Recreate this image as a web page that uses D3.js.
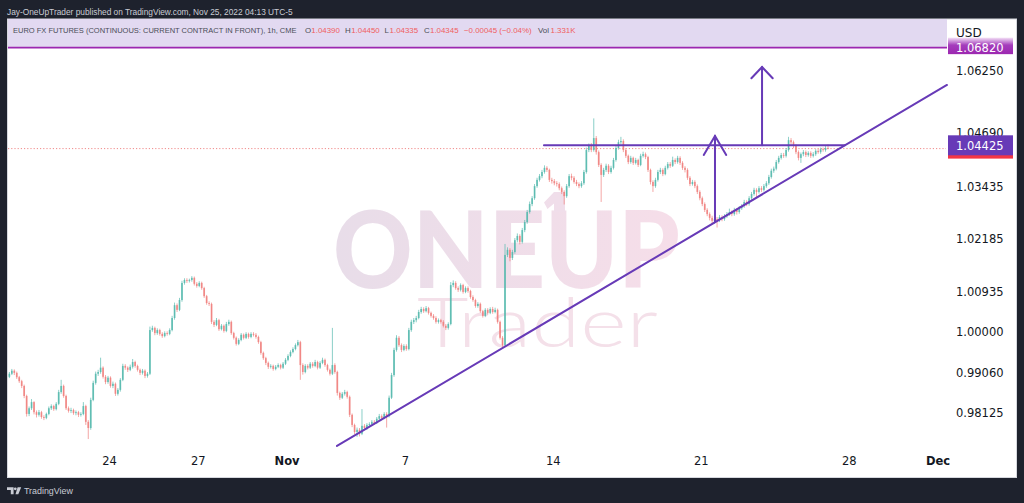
<!DOCTYPE html>
<html><head><meta charset="utf-8">
<script src="https://cdn.jsdelivr.net/npm/d3@7"></script>
<style>html,body{margin:0;padding:0;background:#1e222d;overflow:hidden}svg{display:block}</style>
</head><body>
<svg id="c" width="1024" height="503"></svg>
<script>
// ---------- DATA (~2h bars) ----------
const firstOpen = 0.9890;
const closes = [
0.9896,0.9903,0.9910,0.9905,0.9895,0.9886,0.9875,0.9852,0.9811,0.9824,
0.9838,0.9815,0.9809,0.9815,0.9804,0.9802,0.9811,0.9824,0.9829,0.9822,
0.9834,0.9861,0.9875,0.9852,0.9824,0.9818,0.9820,0.9813,0.9815,0.9809,
0.9811,0.9829,0.9793,0.9779,0.9843,0.9882,0.9903,0.9907,0.9917,0.9896,
0.9884,0.9894,0.9875,0.9880,0.9857,0.9866,0.9889,0.9921,0.9917,0.9912,
0.9919,0.9930,0.9921,0.9912,0.9905,0.9910,0.9898,0.9903,1.0004,1.0009,
0.9997,1.0004,0.9995,0.9990,0.9997,0.9995,1.0004,1.0032,1.0062,1.0051,
1.0074,1.0114,1.0121,1.0119,1.0121,1.0126,1.0112,1.0107,1.0114,1.0102,
1.0083,1.0067,1.0065,1.0023,1.0016,1.0027,1.0006,1.0014,1.0002,1.0018,
1.0023,0.9997,0.9986,0.9972,0.9981,0.9993,0.9986,0.9995,0.9988,0.9995,
0.9993,0.9988,0.9976,0.9951,0.9939,0.9928,0.9919,0.9921,0.9914,0.9919,
0.9923,0.9917,0.9926,0.9935,0.9944,0.9953,0.9960,0.9969,0.9976,0.9923,
0.9907,0.9921,0.9917,0.9926,0.9921,0.9930,0.9917,0.9928,0.9935,0.9923,
0.9912,0.9903,0.9923,0.9907,0.9859,0.9848,0.9857,0.9861,0.9850,0.9809,
0.9786,0.9770,0.9775,0.9766,0.9784,0.9779,0.9786,0.9788,0.9793,0.9791,
0.9800,0.9806,0.9802,0.9811,0.9806,0.9848,0.9900,0.9958,0.9986,0.9969,
0.9958,0.9967,0.9960,1.0004,1.0023,1.0027,1.0032,1.0046,1.0053,1.0048,
1.0055,1.0044,1.0037,1.0032,1.0023,1.0027,1.0023,1.0014,1.0009,1.0018,
1.0109,1.0114,1.0102,1.0098,1.0109,1.0093,1.0102,1.0095,1.0081,1.0074,
1.0060,1.0065,1.0048,1.0037,1.0051,1.0044,1.0053,1.0046,1.0051,1.0023,
0.9986,0.9969,1.0180,1.0192,1.0173,1.0187,1.0215,1.0225,1.0211,1.0239,
1.0258,1.0282,1.0301,1.0315,1.0344,1.0359,1.0368,1.0378,1.0388,1.0383,
1.0359,1.0356,1.0351,1.0349,1.0339,1.0330,1.0320,1.0344,1.0368,1.0364,
1.0354,1.0349,1.0344,1.0351,1.0378,1.0431,1.0441,1.0431,1.0460,1.0426,
1.0395,1.0371,1.0383,1.0393,1.0378,1.0388,1.0407,1.0436,1.0450,1.0453,
1.0431,1.0417,1.0402,1.0412,1.0400,1.0407,1.0395,1.0417,1.0421,1.0414,
1.0383,1.0354,1.0344,1.0359,1.0378,1.0383,1.0373,1.0388,1.0397,1.0393,
1.0407,1.0402,1.0412,1.0400,1.0388,1.0383,1.0364,1.0349,1.0354,1.0344,
1.0330,1.0315,1.0301,1.0287,1.0277,1.0268,1.0261,1.0265,1.0263,1.0270,
1.0265,1.0272,1.0277,1.0282,1.0277,1.0287,1.0282,1.0291,1.0296,1.0306,
1.0301,1.0315,1.0325,1.0335,1.0330,1.0339,1.0335,1.0344,1.0351,1.0366,
1.0381,1.0386,1.0402,1.0412,1.0419,1.0417,1.0431,1.0455,1.0450,1.0441,
1.0426,1.0412,1.0421,1.0426,1.0419,1.0424,1.0417,1.0421,1.0429,1.0426,
1.0433,1.0431,1.0436,1.0434];
const highs = [
0.9900,0.9907,0.9914,0.9913,0.9908,0.9898,0.9889,0.9878,0.9855,0.9828,
0.9845,0.9840,0.9819,0.9820,0.9818,0.9808,0.9814,0.9828,0.9833,0.9832,
0.9838,0.9866,0.9889,0.9878,0.9855,0.9828,0.9825,0.9823,0.9819,0.9818,
0.9815,0.9838,0.9832,0.9797,0.9848,0.9887,0.9908,0.9912,0.9940,0.9920,
0.9900,0.9898,0.9897,0.9885,0.9883,0.9870,0.9893,0.9926,0.9925,0.9920,
0.9924,0.9937,0.9933,0.9924,0.9915,0.9914,0.9913,0.9907,1.0012,1.0014,
1.0012,1.0008,1.0007,0.9999,1.0001,1.0001,1.0008,1.0037,1.0068,1.0066,
1.0079,1.0119,1.0125,1.0125,1.0124,1.0130,1.0129,1.0116,1.0118,1.0117,
1.0105,1.0086,1.0071,1.0068,1.0027,1.0032,1.0030,1.0018,1.0017,1.0023,
1.0028,1.0026,1.0000,0.9989,0.9985,0.9997,0.9996,0.9999,0.9998,0.9999,
0.9999,0.9997,0.9991,0.9979,0.9954,0.9942,0.9931,0.9925,0.9924,0.9923,
0.9927,0.9926,0.9930,0.9939,0.9948,0.9957,0.9964,0.9973,0.9981,0.9979,
0.9927,0.9925,0.9925,0.9930,0.9930,0.9935,0.9933,0.9932,0.9940,0.9938,
0.9926,0.9915,1.0009,0.9927,0.9910,0.9862,0.9861,0.9866,0.9864,0.9853,
0.9812,0.9789,0.9780,0.9779,0.9822,0.9788,0.9790,0.9792,0.9797,0.9797,
0.9804,0.9811,0.9810,0.9815,0.9815,0.9853,0.9905,0.9963,0.9992,0.9990,
0.9973,0.9971,0.9971,1.0009,1.0028,1.0032,1.0037,1.0051,1.0058,1.0057,
1.0060,1.0058,1.0047,1.0041,1.0036,1.0031,1.0030,1.0027,1.0018,1.0022,
1.0116,1.0120,1.0118,1.0106,1.0113,1.0112,1.0106,1.0106,1.0098,1.0085,
1.0077,1.0069,1.0068,1.0051,1.0055,1.0055,1.0057,1.0058,1.0056,1.0054,
1.0026,0.9990,1.0206,1.0198,1.0196,1.0192,1.0220,1.0231,1.0229,1.0244,
1.0263,1.0287,1.0307,1.0320,1.0349,1.0364,1.0373,1.0383,1.0394,1.0392,
1.0386,1.0364,1.0361,1.0356,1.0353,1.0343,1.0334,1.0349,1.0373,1.0374,
1.0368,1.0359,1.0353,1.0356,1.0383,1.0437,1.0447,1.0448,1.0508,1.0465,
1.0430,1.0399,1.0388,1.0398,1.0397,1.0393,1.0412,1.0441,1.0456,1.0463,
1.0457,1.0435,1.0420,1.0417,1.0415,1.0412,1.0410,1.0422,1.0427,1.0425,
1.0417,1.0386,1.0358,1.0364,1.0383,1.0388,1.0387,1.0393,1.0402,1.0402,
1.0415,1.0411,1.0417,1.0416,1.0404,1.0392,1.0387,1.0368,1.0359,1.0358,
1.0348,1.0334,1.0319,1.0305,1.0291,1.0281,1.0273,1.0270,1.0270,1.0275,
1.0274,1.0277,1.0282,1.0290,1.0286,1.0292,1.0291,1.0296,1.0301,1.0311,
1.0310,1.0320,1.0330,1.0340,1.0339,1.0344,1.0344,1.0349,1.0356,1.0371,
1.0386,1.0391,1.0407,1.0417,1.0424,1.0424,1.0436,1.0463,1.0460,1.0454,
1.0445,1.0430,1.0425,1.0431,1.0430,1.0428,1.0428,1.0426,1.0433,1.0434,
1.0437,1.0437,1.0441,1.0445];
const lows = [
0.9886,0.9893,0.9900,0.9900,0.9891,0.9882,0.9870,0.9847,0.9805,0.9806,
0.9820,0.9810,0.9803,0.9805,0.9800,0.9797,0.9799,0.9808,0.9820,0.9818,
0.9819,0.9831,0.9857,0.9848,0.9820,0.9814,0.9813,0.9809,0.9808,0.9804,
0.9805,0.9808,0.9786,0.9754,0.9775,0.9840,0.9878,0.9898,0.9903,0.9892,
0.9879,0.9880,0.9871,0.9870,0.9852,0.9853,0.9862,0.9886,0.9912,0.9907,
0.9909,0.9915,0.9917,0.9908,0.9900,0.9901,0.9893,0.9894,0.9900,1.0000,
0.9992,0.9993,0.9991,0.9986,0.9987,0.9991,0.9992,1.0001,1.0028,1.0046,
1.0048,1.0070,1.0110,1.0114,1.0115,1.0117,1.0108,1.0103,1.0104,1.0098,
1.0079,1.0063,1.0060,1.0018,1.0011,1.0013,1.0002,1.0003,0.9998,0.9999,
1.0014,0.9993,0.9982,0.9968,0.9969,0.9978,0.9982,0.9983,0.9984,0.9985,
0.9989,0.9984,0.9972,0.9947,0.9935,0.9923,0.9914,0.9915,0.9910,0.9911,
0.9916,0.9913,0.9914,0.9923,0.9932,0.9941,0.9950,0.9957,0.9966,0.9889,
0.9901,0.9904,0.9913,0.9914,0.9917,0.9918,0.9913,0.9914,0.9925,0.9919,
0.9908,0.9899,0.9900,0.9903,0.9853,0.9843,0.9845,0.9853,0.9846,0.9804,
0.9781,0.9765,0.9759,0.9760,0.9763,0.9774,0.9775,0.9782,0.9784,0.9787,
0.9788,0.9797,0.9798,0.9799,0.9780,0.9803,0.9845,0.9896,0.9954,0.9965,
0.9953,0.9955,0.9956,0.9957,1.0000,1.0018,1.0022,1.0029,1.0042,1.0044,
1.0045,1.0040,1.0033,1.0028,1.0019,1.0019,1.0019,1.0010,1.0004,1.0005,
1.0015,1.0104,1.0098,1.0093,1.0094,1.0089,1.0090,1.0091,1.0077,1.0070,
1.0056,1.0056,1.0044,1.0033,1.0034,1.0040,1.0041,1.0042,1.0043,1.0019,
0.9982,0.9962,0.9965,1.0175,1.0165,1.0168,1.0183,1.0210,1.0205,1.0207,
1.0234,1.0254,1.0278,1.0296,1.0311,1.0340,1.0355,1.0363,1.0374,1.0378,
1.0354,1.0350,1.0346,1.0343,1.0334,1.0325,1.0300,1.0316,1.0340,1.0358,
1.0350,1.0344,1.0339,1.0340,1.0347,1.0374,1.0426,1.0426,1.0427,1.0420,
1.0390,1.0306,1.0366,1.0378,1.0373,1.0374,1.0384,1.0403,1.0432,1.0445,
1.0426,1.0412,1.0397,1.0398,1.0395,1.0396,1.0390,1.0392,1.0413,1.0409,
1.0378,1.0348,1.0330,1.0340,1.0355,1.0373,1.0368,1.0370,1.0384,1.0388,
1.0390,1.0397,1.0398,1.0395,1.0383,1.0377,1.0359,1.0344,1.0345,1.0339,
1.0325,1.0310,1.0296,1.0282,1.0272,1.0262,1.0255,1.0254,1.0245,1.0258,
1.0260,1.0261,1.0268,1.0273,1.0272,1.0273,1.0276,1.0278,1.0287,1.0292,
1.0296,1.0297,1.0311,1.0321,1.0316,1.0326,1.0330,1.0331,1.0340,1.0347,
1.0362,1.0376,1.0382,1.0398,1.0408,1.0412,1.0413,1.0427,1.0444,1.0436,
1.0421,1.0406,1.0400,1.0416,1.0414,1.0415,1.0412,1.0413,1.0417,1.0422,
1.0422,1.0427,1.0427,1.0433];
const firstBarDay = -3.45;      // trading-day index of first bar (Oct 24 = 0)
const barsPerDay = 12;
const priceTicks = [1.06250,1.04690,1.03435,1.02185,1.00935,1.00000,0.99060,0.98125];
const dayTicks = [0,3,6,10,15,20,25,28];
const dayLabels = ["24","27","Nov","7","14","21","28","Dec"];
const boldLabels = ["Nov","Dec"];
const lastPrice = 1.04345, levelPrice = 1.04425, bandPrice = 1.06820;
const trendLine = [[7.705,0.97383],[28.32,1.05898]];
const resistance = [[14.70,1.04425],[24.87,1.04425]];
const arrows = [
  {d:20.48, from:1.02582, to:1.04651, wd:0.38, wp:1.04190},
  {d:22.07, from:1.04425, to:1.06341, wd:0.36, wp:1.06063}
];
const symbolText = "EURO FX FUTURES (CONTINUOUS: CURRENT CONTRACT IN FRONT), 1h, CME";
const legendKeys = ["O","H","L","C","","Vol"];
const legendVals = ["1.04390","1.04450","1.04335","1.04345","\u22120.00045 (\u22120.04%)","1.331K"];

// ---------- LAYOUT ----------
const plot = {l:8, r:946, t:19, b:450};
const svg = d3.select("#c");
const x = d3.scaleLinear().domain([-3.413, 28.287]).range([plot.l, plot.r]);
const y = d3.scaleLog().domain([0.97292, 1.07533]).range([plot.b, plot.t]);

const defs = svg.append("defs");
defs.append("clipPath").attr("id","clip").append("rect")
  .attr("x",plot.l).attr("y",plot.t).attr("width",plot.r-plot.l).attr("height",plot.b-plot.t);
const g1 = defs.append("linearGradient").attr("id","wm").attr("gradientUnits","userSpaceOnUse")
  .attr("x1",333).attr("x2",680).attr("y1",0).attr("y2",0);
g1.append("stop").attr("offset","0").attr("stop-color","#e8dde9");
g1.append("stop").attr("offset","1").attr("stop-color","#f6dee9");
const g2 = defs.append("linearGradient").attr("id","lab").attr("x1","0").attr("x2","0").attr("y1","0").attr("y2","1");
g2.append("stop").attr("offset","0").attr("stop-color","#f3e0f6");
g2.append("stop").attr("offset","0.45").attr("stop-color","#a43dbc");
g2.append("stop").attr("offset","1").attr("stop-color","#9c27b0");

// helper: font size so the natural width matches a target width
function fitSize(sel, family, target, base) {
  sel.style("font-family", family).style("font-size", base + "px");
  const w = sel.node().getComputedTextLength();
  return w > 0 ? base * target / w : base;
}

// top caption
const cap = svg.append("text").attr("x",7).attr("y",14.5).attr("fill","#c9ccd4")
  .text("Jay-OneUpTrader published on TradingView.com, Nov 25, 2022 04:13 UTC-5");
cap.style("font-size", Math.min(9.8, fitSize(cap, "Liberation Sans, Arial, sans-serif", 286, 10)) + "px");

// white panel
svg.append("rect").attr("x",7.5).attr("y",19).attr("width",1009).attr("height",458.5)
  .attr("fill","#ffffff").attr("stroke","#d6d8de").attr("stroke-width",1);

// band (rectangle drawing above 1.06820)
svg.append("rect").attr("x",plot.l).attr("y",plot.t).attr("width",plot.r-plot.l+1)
  .attr("height",y(bandPrice)-plot.t).attr("fill","#e2d9f1");
svg.append("line").attr("x1",plot.l).attr("x2",plot.r+1).attr("y1",y(bandPrice)).attr("y2",y(bandPrice))
  .attr("stroke","#9c27b0").attr("stroke-width",1.6);

// watermark
const wm = svg.append("g");
wm.append("text").attr("x",333).attr("y",288).attr("fill","url(#wm)")
  .style("font-family","Lato, 'Open Sans', sans-serif").style("font-weight","900").style("font-size","106px")
  .attr("textLength",347).attr("lengthAdjust","spacingAndGlyphs").text("ONEUP");
wm.append("path").attr("fill","#f0deea")
  .attr("d","M554,192 H565 V212 H554 V203.5 L547.5,209 L544,202.5 Z");
wm.append("text").attr("x",417).attr("y",347).attr("fill","#f4e0e9")
  .style("font-family","Lato, 'Open Sans', sans-serif").style("font-weight","300").style("font-size","68px")
  .attr("textLength",241).attr("lengthAdjust","spacingAndGlyphs").text("Trader");

// header legend
const hf = "Liberation Sans, Arial, sans-serif";
const symT = svg.append("text").attr("x",13).attr("y",33).attr("fill","#4a4d57").text(symbolText);
symT.style("font-size", Math.min(8.4, fitSize(symT, hf, 284, 10)) + "px");
const legend = svg.append("g").style("font-family",hf).style("font-size","7.9px");
const keyX = [305, 345, 384.5, 424, null, 538];
const valX = [311.3, 351.2, 389.6, 430, 464, 550.5];
legendKeys.forEach((k,i)=>{
  if (k) legend.append("text").attr("x",keyX[i]).attr("y",33).attr("fill","#4a4d57").text(k);
  legend.append("text").attr("x",valX[i]).attr("y",33).attr("fill","#f0605f").text(legendVals[i]);
});

// current price dotted line
svg.append("line").attr("x1",plot.l).attr("x2",plot.r).attr("y1",y(lastPrice)).attr("y2",y(lastPrice))
  .attr("stroke","#f08a8a").attr("stroke-width",1).attr("stroke-dasharray","1.2 2");

// candles
const bars = closes.map((c,i)=>({i, o: i ? closes[i-1] : firstOpen, c, h: highs[i], l: lows[i]}));
const cg = svg.append("g").attr("clip-path","url(#clip)");
const bx = d => x(firstBarDay + d.i / barsPerDay);
const col = d => d.c >= d.o ? "#53b9ad" : "#f07f7c";
cg.selectAll("line.w").data(bars).join("line").attr("class","w")
  .attr("x1",bx).attr("x2",bx).attr("y1",d=>y(d.h)).attr("y2",d=>y(d.l))
  .attr("stroke",col).attr("stroke-width",0.8).attr("opacity",0.85);
cg.selectAll("rect.b").data(bars).join("rect").attr("class","b")
  .attr("x",d=>bx(d)-0.85).attr("width",1.7)
  .attr("y",d=>y(Math.max(d.o,d.c)))
  .attr("height",d=>Math.max(0.8, y(Math.min(d.o,d.c)) - y(Math.max(d.o,d.c))))
  .attr("fill",col).attr("opacity",0.85);

// drawings
const dc = "#673ab7";
const dg = svg.append("g").attr("stroke",dc).attr("stroke-width",2).attr("fill","none").attr("stroke-linecap","round");
const ln = d3.line().x(p=>x(p[0])).y(p=>y(p[1]));
dg.append("path").attr("d",ln(trendLine));
dg.append("path").attr("d",ln(resistance));
arrows.forEach(a=>{
  dg.append("path").attr("d",ln([[a.d,a.from],[a.d,a.to]]));
  dg.append("path").attr("d",ln([[a.d-a.wd,a.wp],[a.d,a.to],[a.d+a.wd,a.wp]]));
});

// price axis
const fAx = "DejaVu Sans, sans-serif";
const pa = svg.append("g").attr("transform",`translate(${plot.r},0)`)
  .call(d3.axisRight(y).tickValues(priceTicks).tickFormat(d3.format(".5f")).tickSize(0).tickPadding(10));
pa.select(".domain").remove();
pa.selectAll("text").attr("fill","#131722").style("font-family",fAx).style("font-size","11.5px")
  .attr("dy", d => Math.abs(y(d) - y(levelPrice)) < 16 ? "0.16em" : "0.32em");
svg.append("text").attr("x",956).attr("y",36.5).attr("fill","#131722")
  .style("font-family",fAx).style("font-size","12px").text("USD");

// price labels
const labG = svg.append("g").style("font-family",fAx).style("font-size","11.5px");
labG.append("rect").attr("x",948).attr("y",y(bandPrice)-10).attr("width",65).attr("height",16.5).attr("fill","url(#lab)");
labG.append("text").attr("x",956).attr("y",y(bandPrice)).attr("dy","0.36em").attr("fill","#fff").text(d3.format(".5f")(bandPrice));
labG.append("rect").attr("x",948).attr("y",y(lastPrice)-10).attr("width",65).attr("height",20).attr("fill","#f23645");
labG.append("rect").attr("x",948).attr("y",y(levelPrice)-10).attr("width",65).attr("height",20).attr("fill","#673ab7");
labG.append("text").attr("x",956).attr("y",y(levelPrice)).attr("dy","0.38em").attr("fill","#fff").text(d3.format(".5f")(levelPrice));

// time axis
const ta = svg.append("g").attr("transform",`translate(0,${plot.b})`)
  .call(d3.axisBottom(x).tickValues(dayTicks).tickFormat((d,i)=>dayLabels[i]).tickSize(0).tickPadding(7));
ta.select(".domain").remove();
ta.selectAll("text").attr("fill","#131722").style("font-family",fAx).style("font-size","11.5px")
  .style("font-weight",(d,i)=>boldLabels.includes(dayLabels[i])?"bold":"normal");

// TradingView footer
const tv = svg.append("g").attr("fill","#c9ccd4");
tv.append("path").attr("d","M7,487.3 H13.6 V494.2 H10.8 V490.1 H7 Z M17.6,487.3 H21.2 L18.3,494.2 H15.5 Z");
tv.append("circle").attr("cx",15.3).attr("cy",488.8).attr("r",1.4);
const tvt = tv.append("text").attr("x",24).attr("y",494.3).text("TradingView");
tvt.style("font-size", Math.min(10, fitSize(tvt, "Liberation Sans, Arial, sans-serif", 49, 10)) + "px");

if (closes.length!==highs.length || closes.length!==lows.length) {
  svg.append("text").attr("x",20).attr("y",100).attr("fill","red").text(`len ${closes.length} ${highs.length} ${lows.length}`);
}
</script>
</body></html>
